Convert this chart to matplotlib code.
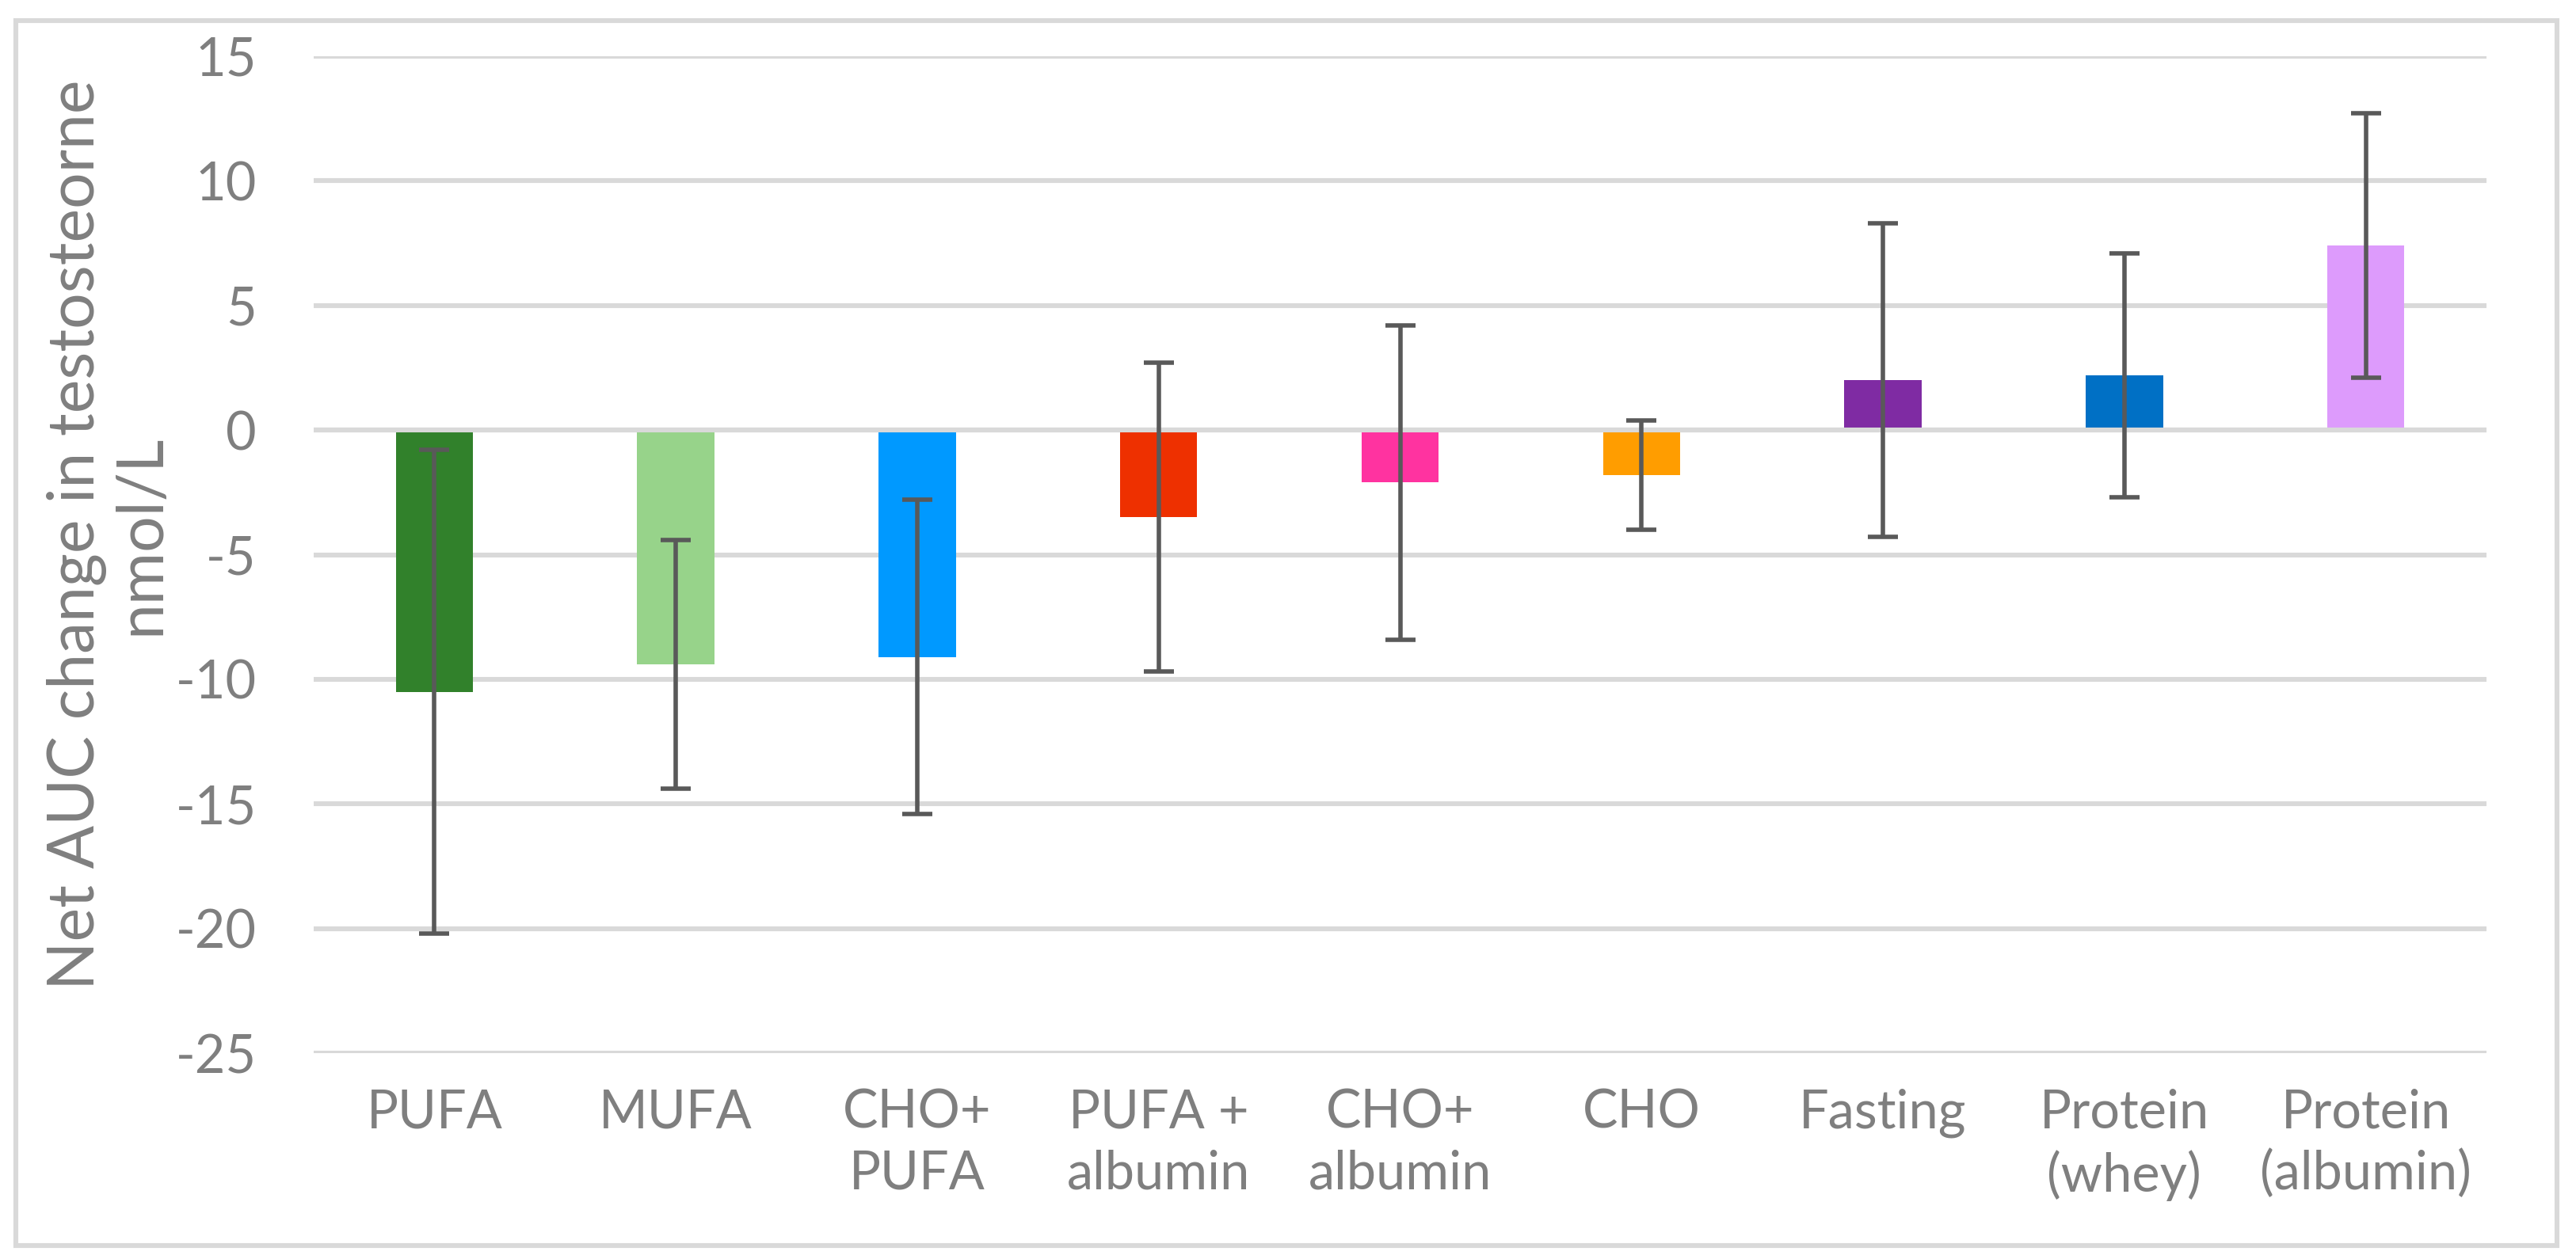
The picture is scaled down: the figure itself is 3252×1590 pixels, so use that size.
import matplotlib.pyplot as plt
from matplotlib.patches import Rectangle

plt.rcParams['font.family'] = ['Lato', 'DejaVu Sans']

categories = ['PUFA', 'MUFA', 'CHO+\nPUFA', 'PUFA +\nalbumin', 'CHO+\nalbumin',
              'CHO', 'Fasting', 'Protein\n(whey)', 'Protein\n(albumin)']
values = [-10.5, -9.4, -9.1, -3.5, -2.1, -1.8, 2.0, 2.2, 7.4]
errors = [9.7, 5.0, 6.3, 6.2, 6.3, 2.2, 6.3, 4.9, 5.3]
colors = ['#31812B', '#97D38A', '#0099FF', '#EE3000', '#FF33A0',
          '#FF9D00', '#7F2BA3', '#0070C5', '#DD9BFC']
yticks = [-25, -20, -15, -10, -5, 0, 5, 10, 15]

txt = '#7F7F7F'
grid = '#D9D9D9'

fig = plt.figure(figsize=(16.26, 7.95), dpi=200)
W, H = 3252, 1590
ax = fig.add_axes([396 / W, 1 - 1330 / H, (3139 - 396) / W, (1330 - 71) / H])

x = list(range(len(categories)))
ax.bar(x, values, width=0.32, color=colors, zorder=2)
ax.axhline(0, color=grid, linewidth=2.2, zorder=3)
ax.errorbar(x, values, yerr=errors, fmt='none', ecolor='#595959',
            elinewidth=2.0, capsize=7, capthick=2.0, zorder=4)

ax.set_xlim(-0.5, len(categories) - 0.5)
ax.set_ylim(-25, 15)
ax.set_yticks(yticks)
ax.set_yticklabels([str(t) for t in yticks])
ax.set_xticks(x)
ax.set_xticklabels(categories, linespacing=1.3)
ax.yaxis.grid(True, color=grid, linewidth=2.2, zorder=0)
ax.set_axisbelow(True)
for s in ax.spines.values():
    s.set_visible(False)
ax.tick_params(axis='both', length=0, labelsize=24, labelcolor=txt)
ax.tick_params(axis='y', pad=26)
ax.tick_params(axis='x', pad=16)

ax.set_ylabel('Net AUC change in testosteorne\nnmol/L', fontsize=29,
              color=txt, va='center', linespacing=1.1)
ax.yaxis.set_label_coords(-0.0944, 0.52)

# outer chart border
fig.patches.append(Rectangle((20 / W, 1 - 1573 / H), (3228 - 20) / W, (1573 - 26) / H,
                             transform=fig.transFigure, fill=False,
                             edgecolor=grid, linewidth=2.2))

fig.savefig('out.png', dpi=200)
